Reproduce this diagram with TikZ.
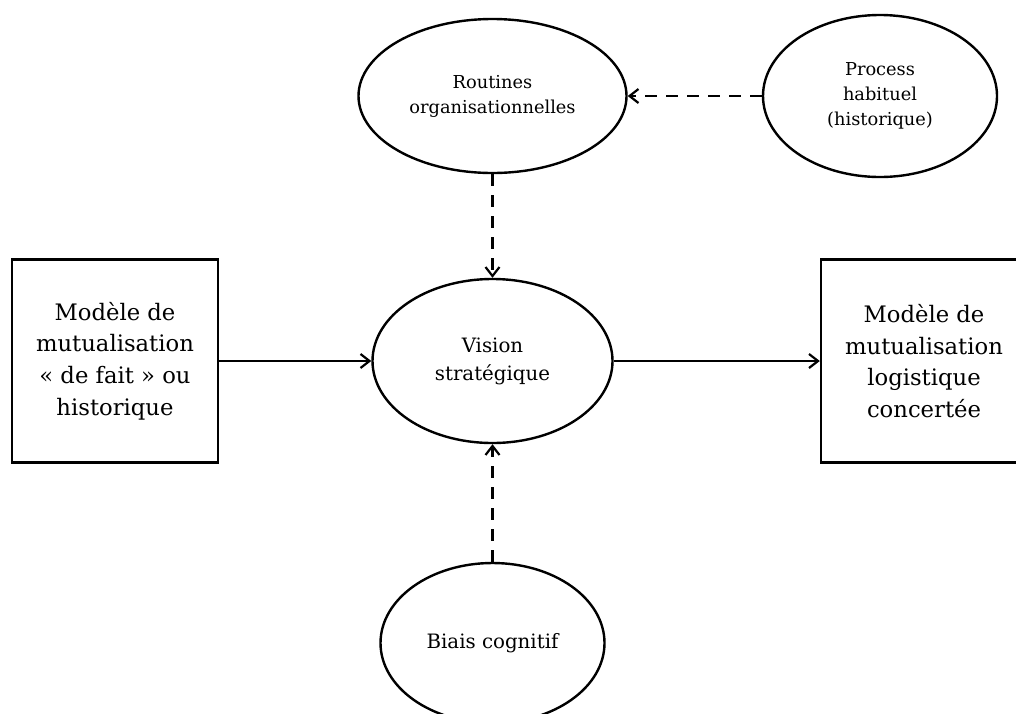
\documentclass[tikz,border=0pt]{standalone}
\usepackage{fontspec}
\setmainfont{DejaVu Serif}
\usetikzlibrary{arrows.meta,shapes.geometric}

\begin{document}
\begin{tikzpicture}[x=1pt,y=-1pt,line width=2.4pt,line cap=butt,
    >={Straight Barb[length=9pt,width=14pt,line width=2.2pt]},
    oval/.style={draw,ellipse,inner sep=0pt,align=center},
    box/.style={draw,rectangle,inner sep=0pt,align=center,
      minimum width=206pt,minimum height=203pt,
      font=\fontsize{22.7}{31.7}\selectfont},
    small/.style={font=\fontsize{17.8}{25}\selectfont},
    mid/.style={font=\fontsize{19.8}{28}\selectfont},
    hint/.style={->,dash pattern=on 12pt off 9pt}]
  \useasboundingbox (0,0) rectangle (1016,713);
  \clip (0,0) rectangle (1016,713);

  % Ellipses.
  \node[oval,small,minimum width=268pt,minimum height=154pt] (routines)
    at (492.5,96) {Routines\\organisationnelles};
  \node[oval,small,minimum width=234pt,minimum height=162pt] (process)
    at (880,96) {Process\\habituel\\(historique)};
  \node[oval,mid,minimum width=240pt,minimum height=164pt] (vision)
    at (492.5,361) {Vision\\stratégique};
  \node[oval,mid,minimum width=224pt,minimum height=160pt] (biais)
    at (492.5,643) {Biais cognitif};

  % Boxes.
  \node[box] (fait) at (115,361)
    {Modèle de\\mutualisation\\« de fait » ou\\historique};
  \node[box] (concertee) at (924,361)
    {Modèle de\\mutualisation\\logistique\\concertée};

  % Influences.
  \draw[hint] (process.west) -- (routines.east);
  \draw[hint] (routines.south) -- (vision.north);
  \draw[hint] (biais.north) -- (vision.south);

  % Transition.
  \draw[->] (fait.east) -- (vision.west);
  \draw[->] (vision.east) -- (concertee.west);
\end{tikzpicture}
\end{document}
